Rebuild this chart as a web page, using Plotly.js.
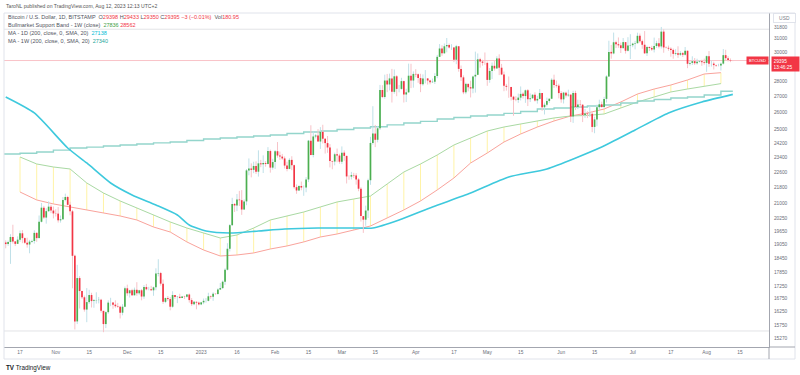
<!DOCTYPE html>
<html><head><meta charset="utf-8">
<script src="https://cdn.plot.ly/plotly-3.0.1.min.js"></script>
<style>html,body{margin:0;padding:0;background:#fff;}#chart{width:800px;height:375px;}</style>
</head><body><div id="chart"></div>
<script>
// ---------------- DATA ----------------
const startDate = '2022-10-11';   // first daily candle
const firstOpen = 19130;
const close = [
19060,19155,19380,19180,19070,19260,19550,19330,19120,19040,19170,19200,19570,19330,20090,20770,20290,20600,20820,20630,20490,
20480,20160,20210,21150,21300,20910,20590,18540,15880,17590,17060,16810,16330,16620,16900,16660,16690,16700,16710,16280,15780,16230,16600,16600,16520,16460,16440,16210,16440,17170,
16970,17090,16890,17110,16970,17090,16840,17220,17130,17130,17090,17210,17780,17800,17360,16630,16780,16740,16440,16900,16820,16830,16780,16840,16830,16920,16700,16540,16630,16600,16530,
16610,16670,16670,16850,16830,16950,16940,17120,17180,17440,17940,18850,19930,20950,20880,21170,21140,20680,21080,22680,22780,22710,22920,22610,23060,23010,23080,23030,23740,22830,23130,
23730,23490,23430,23330,22940,22760,23250,22960,21800,21630,21860,21780,21780,22200,24330,23520,24570,24630,24280,24840,24440,24190,23940,23190,23160,23560,23490,23150,
23650,23470,22360,22350,22430,22410,22200,21720,20360,20190,20630,22160,24200,24740,24380,25050,27420,26970,28040,27780,28180,27300,28320,27490,27490,28000,27130,27270,28360,28040,28480,
28450,28200,27800,28180,28180,28040,27930,27960,28340,29650,30240,29900,30400,30490,30320,30320,29450,30400,28820,28250,27270,27820,27600,27520,28310,28420,29480,29320,29240,29230,
28080,28680,29030,28850,29540,28900,28440,27690,27630,27620,26990,26800,26780,26930,27170,27030,27400,26830,26890,27110,26750,26850,27220,26330,26480,26720,26860,28090,27740,27700,27220,
26820,27250,27070,27120,25760,27230,26340,26500,26480,25850,25940,25900,25920,25130,25580,26330,26510,26340,26850,28310,30000,29890,30690,30550,30470,30270,30700,30080,30450,30480,
30590,30620,31160,30770,30510,29900,30350,30280,30170,30420,30620,30390,31470,30320,30290,30230,30140,29860,29910,29800,29910,29800,30080,29170,29230,29350,29210,29310,29350,29280,29230,
29700,29170,29180,29080,29050,29050,29180,29770,29560,29430,29398,29395];
const high = [
19230,19220,19510,19950,19200,19410,19680,19700,19360,19350,19250,19260,19690,19600,20390,21000,20860,20740,21080,20920,20830,
20690,20800,20390,21300,21470,21360,21060,20660,18590,18150,17670,17070,16880,17180,17110,16990,16740,17010,16820,16750,16280,16260,16690,16790,16610,16690,16590,16480,16540,17240,
17320,17110,17150,17200,17420,17110,17140,17300,17350,17230,17270,17240,18000,18390,17850,17530,16800,16860,16820,17050,16900,16860,16950,16860,16870,16940,16960,16780,16660,16650,16640,
16630,16760,16780,16990,16880,17010,16960,17170,17390,17490,18000,19100,19980,21260,21000,21450,21610,21650,21180,22750,23330,23060,23150,23170,23780,23250,23500,23180,23960,23820,23310,
23800,24250,23710,23580,23440,23150,23340,23450,22990,21940,21900,22090,21890,22320,24370,25230,24860,24720,25000,25120,25260,24470,24600,24130,23210,23650,23880,23590,
24000,23780,23480,22420,22600,22550,22530,22270,21800,20370,20870,22240,24550,26390,25250,25190,27750,27730,28430,28480,28500,28820,28780,28400,27750,28220,28030,27500,29180,29170,28650,
28800,28510,28490,28450,28740,28190,28090,28170,28530,29790,30560,30470,30600,31000,30600,30550,30350,30500,30420,29050,28380,27900,27830,28030,28360,30020,29890,29590,29450,29960,
29330,28880,29260,29380,29690,29830,29160,28640,27820,28310,27630,27050,27020,27190,27650,27270,27450,27480,27200,27160,27270,27050,27480,27220,26620,26930,26880,28190,28430,28040,27830,
27350,27300,27310,27440,27140,27370,27370,26800,26780,26530,26220,26080,26410,26070,25750,26490,26800,26680,26980,28390,30800,30500,31400,30810,31040,30670,31000,30700,31060,31280,
30660,30790,31390,31330,30880,31510,30440,30390,30440,31030,30800,30990,31820,31640,30390,30450,30330,30240,30190,30400,30050,29990,30350,30090,29360,29690,29570,29520,29410,29450,29530,
29750,30060,29410,29320,29110,29170,29250,30200,30150,29700,29540,29433];
const low = [
18870,18980,18190,19080,18970,19070,19160,19100,19070,18900,18650,19120,19080,19160,19300,20060,20230,20000,20560,20500,20250,
20340,20050,20050,20180,21080,20880,20400,17170,15580,15780,16370,16740,16250,15850,16550,16410,16400,16560,16570,16210,15480,15630,16170,16460,16360,16400,16400,15990,16110,16420,
16870,16800,16860,16880,16870,16910,16690,16750,17090,17090,17070,16870,17090,17660,17280,16550,16580,16670,16300,16400,16740,16580,16770,16780,16740,16800,16600,16470,16500,16340,16490,
16500,16540,16600,16650,16750,16670,16910,16910,17100,17140,17310,17910,18730,19890,20560,20600,20850,20420,20660,20890,22420,22310,22530,22490,22350,22850,22540,22880,23000,22560,22720,
22760,23370,23250,23250,22780,22630,22740,22690,21720,21460,21600,21640,21360,21540,22060,23500,23390,24460,24270,23860,24170,23600,23640,22840,22740,22950,23120,23040,
23020,23200,21990,22180,22200,22280,21930,21590,20100,19570,19900,20270,21920,24100,23960,24230,24950,26900,26860,27280,27390,26620,27180,27020,27270,27440,26620,26650,27230,27540,27570,
28260,27890,27280,27700,27850,27770,27790,27880,27810,28190,29640,29720,29870,29970,30240,30140,29280,29140,28630,28010,27150,27150,27330,26940,27210,27250,28400,28900,29040,29100,
27690,27890,28140,28700,28820,28400,28400,27340,27380,26920,26750,25800,26700,26600,26750,26870,26600,26400,26650,26850,26680,26550,26820,26100,25880,26370,26600,26840,27560,27580,26880,
26610,26560,26930,26980,25420,25370,26150,26210,26290,25420,25670,25660,25730,24820,24760,25170,26170,26300,26270,26620,28280,29520,29830,30270,30290,29920,30220,29880,30030,29500,
30330,30180,30610,30650,30220,29850,29710,30060,30070,29960,30290,30250,30240,29940,30250,30080,29660,29520,29750,29580,29720,29640,29740,28870,29050,29090,29090,29110,29260,29030,29110,
28620,28960,28980,28780,28960,28990,28710,29120,29400,29330,29280,29350];
const lastVolume = '180.95';

// MA - 1D (200, close)
const ma1dDates = ['2022-10-11','2022-10-23','2022-11-06','2022-11-14','2022-11-24','2022-12-03','2022-12-13','2022-12-22','2022-12-27','2023-01-03','2023-01-13','2023-01-25','2023-02-05','2023-02-19','2023-03-08','2023-03-14','2023-03-25','2023-04-08','2023-04-24','2023-05-10','2023-05-26','2023-06-18','2023-07-02','2023-07-16','2023-07-30','2023-08-12'];
const ma1dValues = [26970,25972,23913,23080,22016,21403,20903,20414,19937,19658,19565,19658,19750,19796,19796,19796,20175,20805,21502,22328,22756,23967,24949,25972,26654,27138];

// Bullmarket Support Band (weekly)
const weekDates = ['2022-10-17','2022-10-24','2022-10-31','2022-11-07','2022-11-14','2022-11-21','2022-11-28','2022-12-05','2022-12-12','2022-12-19','2022-12-26','2023-01-02','2023-01-09','2023-01-16','2023-01-23','2023-01-30','2023-02-06','2023-02-13','2023-02-20','2023-02-27','2023-03-06','2023-03-13','2023-03-20','2023-03-27','2023-04-03','2023-04-10','2023-04-17','2023-04-24','2023-05-01','2023-05-08','2023-05-15','2023-05-22','2023-05-29','2023-06-05','2023-06-12','2023-06-19','2023-06-26','2023-07-03','2023-07-10','2023-07-17','2023-07-24','2023-07-31','2023-08-07'];
const bandEma = [23408,23026,22863,22756,22016,21502,21101,20755,20414,20080,19796,19565,19336,19473,19796,20175,20367,20559,20805,21052,21200,21350,21964,22594,23026,23520,24081,24483,24890,25126,25305,25486,25668,25789,25820,25910,26279,26654,26970,27292,27484,27680,27836];
const bandSma = [21552,21151,20954,20805,20658,20512,20367,20175,19843,19611,19156,18795,18531,18575,18664,18840,18975,19156,19381,19519,19703,19891,20271,20658,21101,21657,22277,23080,23631,24251,24714,25126,25486,25789,25972,26217,26654,27162,27484,27745,28077,28474,28562];

// MA - 1W (200, close)
const ma1wDates = ['2022-10-10','2022-10-17','2022-10-24','2022-10-31','2022-11-07','2022-11-14','2022-11-21','2022-11-28','2022-12-05','2022-12-12','2022-12-19','2022-12-26','2023-01-02','2023-01-09','2023-01-16','2023-01-23','2023-01-30','2023-02-06','2023-02-13','2023-02-20','2023-02-27','2023-03-06','2023-03-13','2023-03-20','2023-03-27','2023-04-03','2023-04-10','2023-04-17','2023-04-24','2023-05-01','2023-05-08','2023-05-15','2023-05-22','2023-05-29','2023-06-05','2023-06-12','2023-06-19','2023-06-26','2023-07-03','2023-07-10','2023-07-17','2023-07-24','2023-07-31','2023-08-07','2023-08-12'];
const ma1wValues = [23575,23620,23687,23790,23913,23960,24026,24080,24139,24200,24251,24340,24424,24480,24540,24598,24656,24740,24830,24890,24980,25070,25140,25250,25366,25460,25607,25700,25789,25850,25950,26060,26217,26280,26341,26400,26467,26590,26717,26810,26907,26970,27100,27340,27340];

// horizontal drawing levels
const hLines = [31650, 15525];

// axis ticks (29000 sits under the live-price tag in the original and is not shown)
const xTickVals = ['2022-10-17','2022-11-01','2022-11-15','2022-12-01','2022-12-15','2023-01-01','2023-01-16','2023-02-01','2023-02-15','2023-03-01','2023-03-15','2023-04-01','2023-04-17','2023-05-01','2023-05-15','2023-06-01','2023-06-15','2023-07-01','2023-07-17','2023-08-01','2023-08-15'];
const xTickText = ['17','Nov','15','Dec','15','2023','16','Feb','15','Mar','15','Apr','17','May','15','Jun','15','Jul','17','Aug','15'];
const yTickVals = [31800,31000,30000,28000,27000,26000,25000,24200,23400,22600,21800,21000,20250,19650,19050,18450,17850,17250,16750,16250,15750,15270];

// ---------------- BUILD ----------------
function addDays(s, n){ const d = new Date(s+'T00:00:00Z'); d.setUTCDate(d.getUTCDate()+n); return d.toISOString().slice(0,10); }
const dates = close.map((_, i) => addDays(startDate, i));
const open = close.map((c, i) => i === 0 ? firstOpen : close[i-1]);
const N = close.length;
const xRange = ['2022-10-10 06:43', '2023-08-27 04:05'];

function segs(pred, a, b){
  const x=[], y=[];
  for(let i=0;i<N;i++){ if(pred(i)){ x.push(dates[i],dates[i],null); y.push(a[i],b[i],null); } }
  return {x,y};
}
const up = i => close[i] >= open[i];
const dn = i => close[i] < open[i];

const traces = [];
hLines.forEach(v => traces.push({type:'scatter',mode:'lines',x:xRange,y:[v,v],line:{color:'#e2e3e6',width:1},hoverinfo:'skip'}));
(function(){ const x=[],y=[]; weekDates.forEach((d,i)=>{x.push(d,d,null); y.push(bandSma[i],bandEma[i],null);});
  traces.push({type:'scatter',mode:'lines',x,y,line:{color:'#fff3a6',width:1},hoverinfo:'skip'}); })();
traces.push({type:'scatter',mode:'lines',x:weekDates,y:bandSma,line:{color:'#f9a39c',width:1},hoverinfo:'skip'});
traces.push({type:'scatter',mode:'lines',x:weekDates,y:bandEma,line:{color:'#a9d9a3',width:1},hoverinfo:'skip'});
traces.push({type:'scatter',mode:'lines',x:ma1wDates,y:ma1wValues,line:{color:'#94d5cc',width:1.4,shape:'hv'},hoverinfo:'skip'});
traces.push({type:'scatter',mode:'lines',x:ma1dDates,y:ma1dValues,line:{color:'#3ec9dd',width:1.6,shape:'spline',smoothing:0.6},hoverinfo:'skip'});
traces.push({type:'scatter',mode:'lines',x:xRange,y:[close[N-1],close[N-1]],line:{color:'#f9c4c9',width:1},hoverinfo:'skip'});
const wu = segs(up, low, high), wd = segs(dn, low, high);
traces.push({type:'scatter',mode:'lines',x:wu.x,y:wu.y,line:{color:'#bfe0e8',width:1},hoverinfo:'skip'});
traces.push({type:'scatter',mode:'lines',x:wd.x,y:wd.y,line:{color:'#f7c3c8',width:1},hoverinfo:'skip'});
const bu = segs(up, open, close), bd = segs(dn, open, close);
traces.push({type:'scatter',mode:'lines',x:bu.x,y:bu.y,line:{color:'#4caf50',width:1.7},hoverinfo:'skip'});
traces.push({type:'scatter',mode:'lines',x:bd.x,y:bd.y,line:{color:'#f23645',width:1.7},hoverinfo:'skip'});

const lastO = open[N-1], lastH = high[N-1], lastL = low[N-1], lastC = close[N-1];
const chg = lastC - lastO;
const pct = (chg / lastO * 100);
const RED = '#f23645', GRN = '#4caf50';
const cCol = chg < 0 ? RED : GRN;
const sgn = chg < 0 ? '\u2212' : '+';
const sp = (t, c) => '<span style="color:' + c + '">' + t + '</span>';
const FAM = 'Liberation Sans, Arial, sans-serif';
const LF = {family:FAM, size:5.5, color:'#50535e'};

const row1 = 'Bitcoin / U.S. Dollar, 1D, BITSTAMP  O' + sp(lastO,cCol) + ' H' + sp(lastH,cCol) + ' L' + sp(lastL,cCol) + ' C' + sp(lastC,cCol) +
  ' ' + sp(sgn + Math.abs(chg) + ' (' + sgn + Math.abs(pct).toFixed(2) + '%)', cCol) + '  Vol' + sp(lastVolume, cCol);
const row2 = 'Bullmarket Support Band - 1W (close)  ' + sp(bandEma[bandEma.length-1], '#43a047') + ' ' + sp(bandSma[bandSma.length-1], RED);
const row3 = 'MA - 1D (200, close, 0, SMA, 20)  ' + sp(ma1dValues[ma1dValues.length-1], '#00bcd4');
const row4 = 'MA - 1W (200, close, 0, SMA, 20)  ' + sp(ma1wValues[ma1wValues.length-1], '#26a69a');

const px = x => (x - 4) / 765;
const py = y => (347 - y) / 334;

const annotations = [
  {xref:'paper',yref:'paper',x:px(4),y:py(5.7),xanchor:'left',yanchor:'middle',showarrow:false,text:'TaroNL published on TradingView.com, Aug 12, 2023 12:13 UTC+2',font:{family:FAM,size:5.1,color:'#555'}},
  {xref:'paper',yref:'paper',x:px(6),y:py(17.3),xanchor:'left',yanchor:'middle',showarrow:false,text:row1,font:LF},
  {xref:'paper',yref:'paper',x:px(6),y:py(25),xanchor:'left',yanchor:'middle',showarrow:false,text:row2,font:LF},
  {xref:'paper',yref:'paper',x:px(6),y:py(33),xanchor:'left',yanchor:'middle',showarrow:false,text:row3,font:LF},
  {xref:'paper',yref:'paper',x:px(6),y:py(40.5),xanchor:'left',yanchor:'middle',showarrow:false,text:row4,font:LF},
  {xref:'paper',yref:'paper',x:px(784),y:py(17.8),xanchor:'center',yanchor:'middle',showarrow:false,text:'USD',font:{family:FAM,size:4.9,color:'#787b86'},bgcolor:'#ffffff',bordercolor:'#e0e3eb',borderwidth:1,borderpad:1.5,width:18},
  {xref:'paper',yref:'y',x:px(757.5),y:Math.log10(lastC),xanchor:'center',yanchor:'middle',showarrow:false,text:'BTCUSD',font:{family:FAM,size:4.2,color:'#fff'},bgcolor:RED,borderpad:1,width:19},
  {xref:'paper',yref:'y',x:px(785.5),y:Math.log10(lastC),xanchor:'center',yanchor:'top',yshift:4.5,showarrow:false,text:String(lastC)+'<br>13:46:25',font:{family:FAM,size:4.8,color:'#fff'},bgcolor:RED,borderpad:1.5,width:24,align:'left'},
  {xref:'paper',yref:'paper',x:px(4),y:py(368),xanchor:'left',yanchor:'middle',showarrow:false,text:'<b>TV</b> TradingView',font:{family:FAM,size:6.3,color:'#131722'}}
];

const shapes = [
  {type:'line',xref:'paper',yref:'paper',x0:0,x1:px(795),y0:1,y1:1,line:{color:'#e0e3eb',width:1}},
  {type:'line',xref:'paper',yref:'paper',x0:0,x1:0,y0:py(359),y1:1,line:{color:'#e0e3eb',width:1}},
  {type:'line',xref:'paper',yref:'paper',x0:px(795),x1:px(795),y0:py(359),y1:1,line:{color:'#e0e3eb',width:1}},
  {type:'line',xref:'paper',yref:'paper',x0:0,x1:px(795),y0:py(359),y1:py(359),line:{color:'#e0e3eb',width:1}},
  {type:'line',xref:'paper',yref:'paper',x0:1,x1:px(795),y0:0,y1:0,line:{color:'#a3a6af',width:1}},
  {type:'line',xref:'paper',yref:'paper',x0:1,x1:1,y0:py(359),y1:0,line:{color:'#a3a6af',width:1}}
];

const layout = {
  width:800, height:375,
  margin:{l:4,r:31,t:13,b:28,pad:0},
  paper_bgcolor:'#ffffff', plot_bgcolor:'#ffffff',
  showlegend:false, hovermode:false,
  font:{family:FAM, size:4.7, color:'#787b86'},
  xaxis:{type:'date', range:xRange, showgrid:false, zeroline:false, tickmode:'array', tickvals:xTickVals, ticktext:xTickText,
         ticks:'', showline:true, linecolor:'#a3a6af', linewidth:1, tickfont:{size:4.8,color:'#6a6d78'}, fixedrange:true},
  yaxis:{type:'log', side:'right', range:[4.17461,4.51699], showgrid:false, zeroline:false, tickmode:'array', tickvals:yTickVals,
         ticktext:yTickVals.map(String), ticks:'', showline:true, linecolor:'#a3a6af', linewidth:1, ticklabelstandoff:3,
         tickfont:{size:4.8,color:'#6a6d78'}, fixedrange:true},
  annotations, shapes
};

Plotly.newPlot('chart', traces, layout, {staticPlot:true, displayModeBar:false});
</script>
</body></html>
